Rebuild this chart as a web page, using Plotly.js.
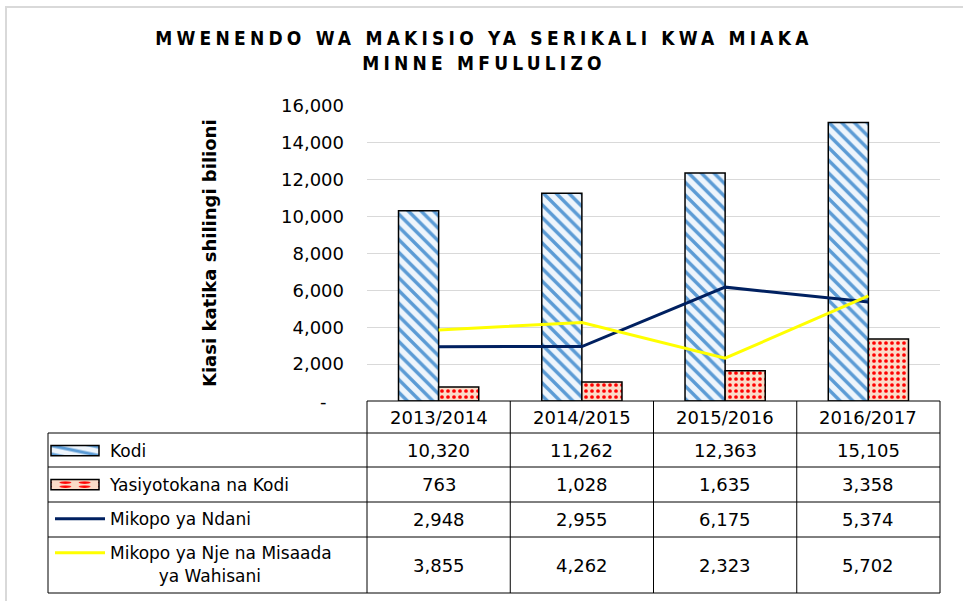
<!DOCTYPE html>
<html><head><meta charset="utf-8">
<script src="https://cdn.plot.ly/plotly-3.0.1.min.js"></script>
<style>
html,body{margin:0;padding:0;background:#fff;}
#chart{width:963px;height:601px;}
.gtitle{letter-spacing:4.2px;}
.legendpoints path.legendbar, .legendpoints path.legendundefined{transform: translate(25px,0px) scale(4,0.85); vector-effect: non-scaling-stroke;}
</style></head><body><div id="chart"></div>
<script>
// ---- data ----
const categories = ['2013/2014', '2014/2015', '2015/2016', '2016/2017'];
const kodi = [10320, 11262, 12363, 15105];
const yasiyotokana = [763, 1028, 1635, 3358];
const mikopoNdani = [2948, 2955, 6175, 5374];
const mikopoNje = [3855, 4262, 2323, 5702];
const seriesNames = ['Kodi', 'Yasiyotokana na Kodi', 'Mikopo ya Ndani', 'Mikopo ya Nje na Misaada<br>\u00A0\u00A0\u00A0\u00A0\u00A0\u00A0\u00A0\u00A0\u00A0ya Wahisani'];
const yTickVals = [0, 2000, 4000, 6000, 8000, 10000, 12000, 14000, 16000];
const yTickText = ['', '2,000', '4,000', '6,000', '8,000', '10,000', '12,000', '14,000', '16,000'];
const zeroLabel = '-';
const chartTitle = 'MWENENDO WA MAKISIO YA SERIKALI KWA MIAKA<br>MINNE MFULULIZO';
const yTitle = 'Kiasi katika shilingi bilioni';

// ---- geometry ----
const W = 963, H = 601;
const M = {l: 367, r: 23, t: 106, b: 200};
const PW = W - M.l - M.r, PH = H - M.t - M.b;
const px = x => (x - M.l) / PW;          // pixel x -> paper
const py = y => (H - M.b - y) / PH;      // pixel y -> paper
const FONT = 'DejaVu Sans, sans-serif';
const fmt = v => v.toLocaleString('en-US');

const traces = [
  {type: 'bar', name: seriesNames[0], x: categories, y: kodi, legendgroup: 'a',
   marker: {color: '#ffffff', line: {color: '#000000', width: 1.5},
            pattern: {shape: '\\', fgcolor: '#5b9bd5', bgcolor: '#eef5fc', size: 9, solidity: 0.38}}},
  {type: 'bar', name: seriesNames[1], x: categories, y: yasiyotokana, legendgroup: 'b',
   marker: {color: '#ffffff', line: {color: '#000000', width: 1.5},
            pattern: {shape: '.', fgcolor: '#ff0000', bgcolor: '#fbdcc8', size: 6, solidity: 0.3}}},
  {type: 'scatter', mode: 'lines', name: seriesNames[2], x: categories, y: mikopoNdani, legendgroup: 'c',
   line: {color: '#002060', width: 3}},
  {type: 'scatter', mode: 'lines', name: seriesNames[3], x: categories, y: mikopoNje, legendgroup: 'd',
   line: {color: '#ffff00', width: 3}}
];

const annotations = [];
// y axis title and zero label
annotations.push({x: px(209), xref: 'paper', y: py(253), yref: 'paper', text: yTitle, textangle: -90,
  showarrow: false, xanchor: 'center', yanchor: 'middle',
  font: {family: FONT, size: 18, weight: 'bold', color: '#000'}});
annotations.push({x: px(329), xref: 'paper', y: 0, yref: 'y', text: zeroLabel, showarrow: false,
  xanchor: 'right', yanchor: 'middle', font: {family: FONT, size: 18, color: '#000'}});
// table header + values
categories.forEach((c, i) => {
  annotations.push({x: c, xref: 'x', y: py(417), yref: 'paper', text: c, showarrow: false,
    font: {family: FONT, size: 18, color: '#000'}, xanchor: 'center', yanchor: 'middle'});
});
const rows = [kodi, yasiyotokana, mikopoNdani, mikopoNje];
const rowCenters = [450, 484.5, 519.5, 565];
rows.forEach((arr, r) => {
  arr.forEach((v, i) => {
    annotations.push({x: categories[i], xref: 'x', y: py(rowCenters[r]), yref: 'paper', text: fmt(v),
      showarrow: false, font: {family: FONT, size: 18, color: '#000'}, xanchor: 'center', yanchor: 'middle'});
  });
});

// table grid
const shapes = [];
const lineStyle = {color: '#000000', width: 1};
const tl = px(48);
shapes.push({type: 'line', xref: 'paper', yref: 'paper', x0: 0, x1: 1, y0: py(401), y1: py(401), line: lineStyle});
[433, 467, 502, 537, 593].forEach(y => shapes.push({type: 'line', xref: 'paper', yref: 'paper',
  x0: tl, x1: 1, y0: py(y), y1: py(y), line: lineStyle}));
shapes.push({type: 'line', xref: 'paper', yref: 'paper', x0: tl, x1: tl, y0: py(433), y1: py(593), line: lineStyle});
[0, 0.25, 0.5, 0.75, 1].forEach(x => shapes.push({type: 'line', xref: 'paper', yref: 'paper',
  x0: x, x1: x, y0: py(401), y1: py(593), line: lineStyle}));
// outer chart frame
shapes.push({type: 'rect', xref: 'paper', yref: 'paper', x0: px(6), x1: px(975), y0: py(7), y1: py(615),
  line: {color: '#d9d9d9', width: 2}, fillcolor: 'rgba(0,0,0,0)', layer: 'below'});

const layout = {
  width: W, height: H, margin: M,
  paper_bgcolor: '#ffffff', plot_bgcolor: '#ffffff',
  font: {family: FONT, color: '#000'},
  title: {text: chartTitle, xref: 'container', yref: 'container', x: 484 / W, xanchor: 'center',
          y: 1 - 45 / H, yanchor: 'top', font: {family: 'DejaVu Sans Condensed, DejaVu Sans, sans-serif', size: 19, weight: 'bold', color: '#000'}},
  barmode: 'group', bargap: 0.44, bargroupgap: 0,
  xaxis: {type: 'category', showticklabels: false, ticks: '', showline: false, showgrid: false, zeroline: false, fixedrange: true},
  yaxis: {range: [0, 16000], tickvals: yTickVals, ticktext: yTickText, showline: false, zeroline: false,
          gridcolor: '#d9d9d9', gridwidth: 1, ticks: '', ticklabelstandoff: 22,
          tickfont: {family: FONT, size: 18, color: '#000'}},
  showlegend: true,
  legend: {xref: 'container', yref: 'container', x: 50 / W, xanchor: 'left', y: 1 - 433 / H, yanchor: 'top',
           traceorder: 'grouped', tracegroupgap: 9,
           itemwidth: 50, valign: 'top', bgcolor: 'rgba(0,0,0,0)', borderwidth: 0,
           font: {family: FONT, size: 17, color: '#000'}},
  annotations: annotations,
  shapes: shapes
};

Plotly.newPlot('chart', traces, layout, {displayModeBar: false, staticPlot: true});
</script></body></html>
